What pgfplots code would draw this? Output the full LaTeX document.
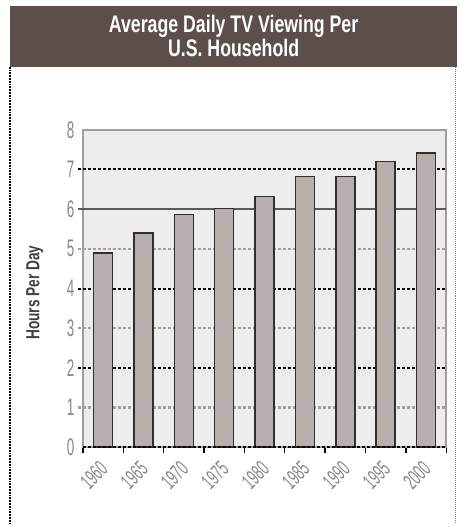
\documentclass[border=0pt]{standalone}
\usepackage{pgfplots}
\pgfplotsset{compat=1.18}
\usepackage{fontspec}
\setmainfont{Liberation Sans}
\newfontfamily\cond[FakeStretch=0.56]{Liberation Sans}
\newfontfamily\labfont[FakeStretch=0.72]{Liberation Sans}
\newfontfamily\titlefont[FakeStretch=0.74]{Liberation Sans}
\definecolor{banner}{RGB}{92,78,75}
\definecolor{plotbg}{RGB}{238,236,236}
\definecolor{barfill}{RGB}{182,175,173}
\definecolor{baredge}{RGB}{50,46,46}
\definecolor{ticktext}{RGB}{140,134,133}
\definecolor{lightgrid}{RGB}{168,158,156}
\definecolor{midgrid}{RGB}{95,88,86}
\definecolor{axisgray}{RGB}{165,155,153}
\begin{document}
\begin{tikzpicture}[x=1pt,y=1pt]
\path[fill=white] (0,0) rectangle (459,-525);
\fill[banner] (10,-6) rectangle (458,-67);
\node[white, align=center, font=\titlefont\bfseries\fontsize{24}{24}\selectfont] at (234,-36) {Average Daily TV Viewing Per\\U.S. Household};
\draw[black, densely dotted, line width=1.8] (10,-67) -- (10,-525);
\draw[gray, densely dotted, line width=1] (456,-67) -- (456,-525);
\node[rotate=90, font=\labfont\bfseries\fontsize{19}{21}\selectfont, text=black!75] at (35,-293) {Hours Per Day};
\begin{axis}[
  at={(83pt,-448pt)}, anchor=south west,
  scale only axis, width=364pt, height=318pt,
  xmin=-0.5, xmax=8.5, ymin=0, ymax=8,
  ytick={0,...,8},
  xtick={0,...,8},
  xticklabels={1960,1965,1970,1975,1980,1985,1990,1995,2000},
  minor xtick={-0.5,0.5,...,8.5},
  xtick pos=bottom, ytick pos=left,
  major tick length=0pt,
  minor tick length=6pt,
  tick align=outside,
  minor tick style={black, line width=1.4pt},
  axis line style={draw=axisgray, line width=2pt},
  axis background/.style={fill=plotbg},
  /pgf/number format/assume math mode=true,
  yticklabel style={font=\cond\fontsize{24}{26}\selectfont, text=ticktext, xshift=-5pt},
  xticklabel style={font=\cond\fontsize{22}{24}\selectfont, text=ticktext, xshift=3pt, yshift=-16pt, rotate=45, anchor=east},
  clip=false,
]
\addplot[lightgrid, line width=2.2pt, densely dashed] coordinates {(-0.62,1)(8.5,1)};
\addplot[lightgrid, line width=2.2pt, densely dashed] coordinates {(-0.62,3)(8.5,3)};
\addplot[lightgrid, line width=2.2pt, densely dashed] coordinates {(-0.62,5)(8.5,5)};
\addplot[midgrid, line width=2pt] coordinates {(-0.62,6)(8.5,6)};
\addplot[black, line width=2pt, densely dashed] coordinates {(-0.62,2)(8.5,2)};
\addplot[black, line width=2pt, densely dashed] coordinates {(-0.62,4)(8.5,4)};
\addplot[black, line width=2pt, densely dashed] coordinates {(-0.62,7)(8.5,7)};
\addplot[ybar, bar width=19pt, fill=barfill, draw=baredge, line width=1.5pt] coordinates {
(0,4.9) (1,5.4) (2,5.86) (3,6.02) (4,6.32) (5,6.82) (6,6.82) (7,7.2) (8,7.41)};
\addplot[black, line width=2pt, densely dashed] coordinates {(-0.5,0)(8.5,0)};
\end{axis}
\end{tikzpicture}
\end{document}
